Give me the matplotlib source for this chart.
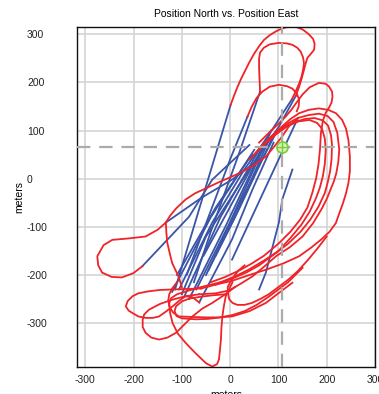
import matplotlib.pyplot as plt

plt.rcParams["font.family"] = ["Liberation Sans", "DejaVu Sans"]
plt.rcParams["axes.unicode_minus"] = False

# Position East (x) / North (y) in meters.
# Red = turns, blue = straight legs.
top_loop_a = [(1, 153), (8, 172), (15, 190), (23, 208), (32, 226), (41, 244), (50, 260), (60, 275),
              (70, 288), (82, 298), (95, 306), (108, 312), (122, 316), (137, 315), (150, 310),
              (163, 300), (172, 290), (175, 280), (174, 268), (167, 259), (160, 251), (156, 238),
              (153, 226), (148, 208), (143, 191), (136, 172)]
top_loop_b = [(62, 181), (61, 205), (60, 230), (60, 250), (62, 262), (70, 272), (82, 279), (101, 282),
              (117, 281), (129, 278), (139, 272), (146, 264), (151, 252), (153, 240), (151, 226),
              (148, 212), (143, 198), (137, 184), (128, 165)]
top_loop_c = [(36, 129), (45, 150), (55, 168), (67, 181), (82, 191), (101, 195), (118, 192),
              (129, 187), (138, 177), (143, 164), (142, 150), (138, 140)]
top_loop_d = [(60, 75), (80, 95), (98, 112), (115, 129), (126, 142), (136, 156), (150, 175),
              (165, 190), (184, 199), (198, 197), (205, 191), (211, 181), (212, 171), (210, 158),
              (205, 148), (198, 137), (192, 120), (188, 95), (186, 60), (183, 30), (178, 0),
              (170, -30), (160, -60), (145, -85), (125, -110), (100, -135), (70, -160),
              (45, -176), (20, -190), (-10, -204), (-40, -215)]

right_loop_1 = [(60, 60), (85, 88), (108, 109), (125, 124), (143, 136), (163, 143), (184, 146),
                (203, 143), (219, 136), (232, 122), (240, 104), (245, 80), (248, 46), (248, 15),
                (245, -9), (240, -30), (234, -50), (226, -72), (219, -92), (206, -110), (190, -125),
                (168, -143), (143, -161), (110, -176), (74, -189), (40, -200), (4, -212),
                (-30, -220), (-60, -228)]
right_loop_2 = [(50, 50), (75, 78), (100, 100), (120, 115), (140, 126), (162, 132), (184, 135),
                (202, 130), (214, 118), (222, 95), (226, 60), (224, 35), (220, 12), (215, -5),
                (209, -20), (201, -40), (190, -62), (172, -92), (150, -120), (124, -142),
                (95, -161), (70, -183), (46, -203), (22, -218), (-2, -232), (-30, -238), (-64, -240)]
right_loop_3 = [(70, 70), (95, 92), (120, 110), (142, 119), (164, 122), (180, 116), (190, 104),
                (196, 84), (198, 60), (196, 30), (192, 5), (186, -18), (178, -40), (165, -68),
                (148, -95), (125, -123), (100, -150), (70, -170), (40, -188), (10, -203), (-20, -215)]
right_loop_4 = [(40, 40), (68, 70), (95, 95), (115, 109), (135, 118), (155, 124), (175, 126),
                (192, 121), (203, 110), (209, 90), (211, 70), (210, 40), (207, 15), (202, -8),
                (196, -30), (183, -58), (166, -85), (146, -110), (120, -135), (90, -158),
                (60, -180), (35, -194), (10, -205), (-30, -220)]

left_loop = [(140, 125), (122, 109), (108, 88), (90, 65), (74, 46), (46, 26), (20, 12), (5, 5),
             (-25, -8), (-50, -20), (-72, -30), (-92, -43), (-112, -62), (-125, -78), (-133, -91),
             (-150, -106), (-175, -120), (-210, -124), (-244, -127), (-262, -138), (-275, -161),
             (-273, -180), (-265, -195), (-245, -204), (-224, -205), (-200, -196), (-182, -182)]
left_down = [(-133, -91), (-132, -112), (-130, -133), (-125, -155), (-120, -175), (-112, -192),
             (-106, -205), (-100, -225)]

bottom_loop_1 = [(-60, -228), (-90, -229), (-120, -230), (-145, -231), (-170, -234), (-190, -238),
                 (-202, -244), (-212, -254), (-216, -265), (-210, -274), (-202, -279), (-190, -286),
                 (-175, -289), (-160, -289), (-147, -286), (-133, -276), (-119, -265),
                 (-105, -253), (-92, -244), (-78, -246), (-64, -257)]
bottom_loop_2 = [(-64, -240), (-92, -244), (-119, -251), (-145, -260), (-168, -272), (-178, -282),
                 (-181, -293), (-181, -308), (-175, -320), (-163, -330), (-147, -334), (-130, -330),
                 (-112, -320), (-95, -303), (-78, -286), (-58, -270), (-37, -258), (-10, -240),
                 (10, -225)]
bottom_loop_3 = [(-20, -215), (-40, -220), (-60, -225), (-85, -232), (-110, -240), (-122, -248),
                 (-126, -258), (-124, -280), (-119, -300), (-108, -322), (-92, -341), (-72, -362),
                 (-50, -383), (-37, -390), (-27, -385), (-23, -375), (-21, -355), (-19, -334),
                 (-18, -310), (-16, -286), (-13, -265), (-9, -244), (5, -215)]
bottom_loop_4 = [(-10, -240), (-35, -242), (-60, -245), (-85, -249), (-100, -255), (-112, -265),
                 (-115, -275), (-111, -285), (-100, -290), (-70, -292), (-45, -291), (-20, -288),
                 (5, -283), (30, -275), (55, -262), (80, -245), (100, -230), (120, -215),
                 (150, -185)]
bottom_loop_5 = [(30, -180), (18, -190), (10, -200), (2, -212), (-5, -225), (-4, -240), (-2, -250),
                 (5, -258), (15, -262), (30, -262), (45, -258), (62, -250), (80, -240), (100, -225),
                 (120, -210), (140, -192), (160, -170), (180, -146), (200, -120)]
bottom_line = [(129, -216), (100, -238), (74, -258), (40, -275), (4, -286), (-25, -288),
               (-50, -288), (-80, -287), (-106, -286), (-118, -278), (-126, -265), (-128, -252),
               (-126, -240), (-120, -228), (-110, -215)]

blue_legs = [
    [(-182, -182), (-85, -79), (-37, -2), (40, 70)],
    [(-133, -91), (-60, -40), (4, -2), (60, 40)],
    [(-114, -230), (-50, -16), (1, 153)],
    [(-95, -245), (-20, -80), (60, 60), (128, 165)],
    [(-100, -240), (-50, -120), (40, 20), (101, 108), (136, 172)],
    [(-64, -257), (4, -126), (46, -23), (90, 75)],
    [(-106, -230), (-37, -91), (30, 20), (80, 90)],
    [(60, -230), (74, -195), (101, -91), (108, -43), (129, 19)],
    [(62, 181), (19, 54), (-40, -110), (-75, -215)],
    [(36, 129), (0, 40), (-60, -120), (-90, -200)],
    [(-30, -160), (20, -60), (90, 90)],
    [(-50, -200), (10, -80), (80, 80)],
    [(4, -168), (81, -2), (140, 125)],
    [(-120, -235), (-40, -80), (50, 60)],
    [(-85, -250), (-10, -100), (70, 70)],
    [(-45, -190), (20, -50), (95, 95)],
    [(-70, -230), (0, -90), (85, 100)],
    [(-110, -200), (-30, -60), (45, 50)],
    [(-55, -160), (10, -40), (75, 80)],
]

red_paths = [top_loop_a, top_loop_b, top_loop_c, top_loop_d, right_loop_1, right_loop_2,
             right_loop_3, right_loop_4, left_loop, left_down, bottom_loop_1, bottom_loop_2,
             bottom_loop_3, bottom_loop_4, bottom_loop_5, bottom_line]

marker_east, marker_north = 107, 66

fig = plt.figure(figsize=(3.79, 3.94), dpi=100)
ax = fig.add_axes([77 / 379, 27 / 394, 298 / 379, 340 / 394])

for path in blue_legs:
    xs, ys = zip(*path)
    ax.plot(xs, ys, color="#3a55a8", lw=1.3, solid_joinstyle="round", zorder=2)
for path in red_paths:
    xs, ys = zip(*path)
    ax.plot(xs, ys, color="#ef2328", lw=1.3, solid_joinstyle="round", zorder=2)

# crosshair + current position
ax.axvline(marker_east, color="#ababab", lw=1.6, dashes=(6, 4), zorder=3)
ax.axhline(marker_north, color="#ababab", lw=1.6, dashes=(6, 4), zorder=3)
ax.plot(marker_east, marker_north, "o", ms=8, mfc="#d4f2bc", mec="#7ccc3a", mew=1.2, zorder=4)
ax.plot(marker_east, marker_north, "+", ms=8, mec="#7ccc3a", mew=1.0, zorder=5)

ax.set_xlim(-317, 297)
ax.set_ylim(-391, 315)
ax.set_xticks([-300, -200, -100, 0, 100, 200, 300])
ax.set_yticks([-300, -200, -100, 0, 100, 200, 300])
ax.grid(True, color="#d4d4d4", lw=1.2, zorder=0)
ax.set_axisbelow(True)
ax.tick_params(axis="both", length=0, labelsize=7.5, colors="#222222")
ax.tick_params(axis="x", pad=6)
ax.tick_params(axis="y", pad=36)
for lbl in ax.get_yticklabels():
    lbl.set_horizontalalignment("left")
for sp in ax.spines.values():
    sp.set_color("#111111")
    sp.set_linewidth(1.0)

ax.set_title("Position North vs. Position East", fontsize=7.5, pad=7)
ax.set_ylabel("meters", fontsize=7.5, labelpad=2)
ax.set_xlabel("meters", fontsize=7.5, labelpad=3)

fig.savefig("out.png", dpi=100)
